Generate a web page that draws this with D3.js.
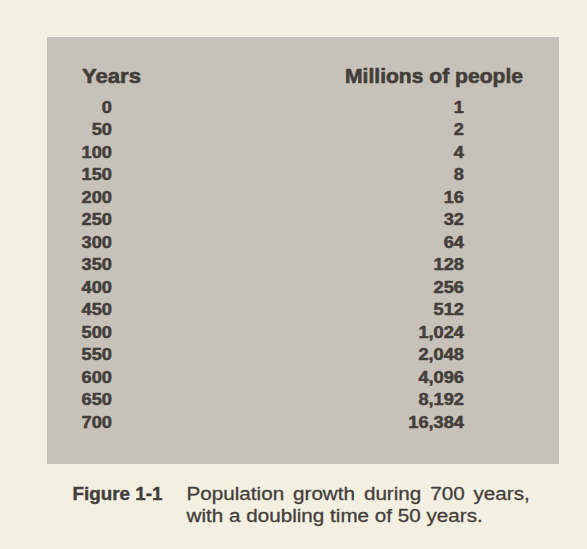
<!DOCTYPE html>
<html>
<head>
<meta charset="utf-8">
<script src="https://cdn.jsdelivr.net/npm/d3@7"></script>
<style>
  html, body { margin: 0; padding: 0; background: #f3f0e1; }
  svg { display: block; }
</style>
</head>
<body>
<div id="chart"></div>
<script>
const years = [0, 50, 100, 150, 200, 250, 300, 350, 400, 450, 500, 550, 600, 650, 700];
const millions = [1, 2, 4, 8, 16, 32, 64, 128, 256, 512, 1024, 2048, 4096, 8192, 16384];
const headers = ["Years", "Millions of people"];
const captionLabel = "Figure 1-1";
const captionLines = ["Population growth during 700 years,", "with a doubling time of 50 years."];

const W = 587, H = 549;
const ink = "#443e3a";
const svg = d3.select("#chart").append("svg").attr("width", W).attr("height", H);

// paper
svg.append("rect").attr("width", W).attr("height", H).attr("fill", "#f3f0e1");
// gray panel
svg.append("rect").attr("x", 47).attr("y", 37).attr("width", 512).attr("height", 427)
  .attr("fill", "#c6c2b9");

const rows = years.map((y, i) => ({ year: y, value: millions[i] }));
const yScale = d3.scalePoint().domain(years).range([106.7, 421.7]);
const fmt = d3.format(",");
const font = "'Liberation Sans', Arial, Helvetica, sans-serif";

function heavy(sel, w) {
  return sel.attr("stroke", ink).attr("stroke-width", w).attr("stroke-linejoin", "round");
}

// headers
heavy(svg.append("text").attr("x", 82).attr("y", 82.5)
  .attr("font-family", font).attr("font-weight", "bold").attr("font-size", 19.5)
  .attr("fill", ink).attr("textLength", 59).attr("lengthAdjust", "spacingAndGlyphs")
  .text(headers[0]), 0.6);
heavy(svg.append("text").attr("x", 345).attr("y", 83)
  .attr("font-family", font).attr("font-weight", "bold").attr("font-size", 19.5)
  .attr("fill", ink).attr("textLength", 178).attr("lengthAdjust", "spacingAndGlyphs")
  .text(headers[1]), 0.6);

const g = svg.append("g");
heavy(g.selectAll("text.yr").data(rows).join("text").attr("class", "yr")
  .attr("transform", d => `translate(112,${yScale(d.year) + 5.8}) scale(1.14,1)`)
  .attr("text-anchor", "end")
  .attr("font-family", font).attr("font-weight", "bold").attr("font-size", 16)
  .attr("fill", ink).text(d => d.year), 0.5);
heavy(g.selectAll("text.val").data(rows).join("text").attr("class", "val")
  .attr("transform", d => `translate(464,${yScale(d.year) + 5.8}) scale(1.14,1)`)
  .attr("text-anchor", "end")
  .attr("font-family", font).attr("font-weight", "bold").attr("font-size", 16)
  .attr("fill", ink).text(d => fmt(d.value)), 0.5);

// caption
heavy(svg.append("text").attr("x", 72.5).attr("y", 500)
  .attr("font-family", font).attr("font-weight", "bold").attr("font-size", 17.5)
  .attr("fill", ink).attr("textLength", 90).attr("lengthAdjust", "spacingAndGlyphs")
  .text(captionLabel), 0.4);

const capSize = 17.5;
const l2 = svg.append("text").attr("font-family", font).attr("font-size", capSize)
  .attr("fill", ink).text(captionLines[1]);
const sx = 296.5 / l2.node().getComputedTextLength();
l2.attr("transform", `translate(186.5,521.5) scale(${sx},1)`);

const l1 = svg.append("text").attr("font-family", font).attr("font-size", capSize)
  .attr("fill", ink).text(captionLines[0]);
const nat1 = l1.node().getComputedTextLength();
const nSpaces = captionLines[0].split(" ").length - 1;
const ws = (343.5 / sx - nat1) / nSpaces;
l1.attr("word-spacing", ws).attr("transform", `translate(186.5,500) scale(${sx},1)`);
heavy(l1, 0.3); heavy(l2, 0.3);
</script>
</body>
</html>
